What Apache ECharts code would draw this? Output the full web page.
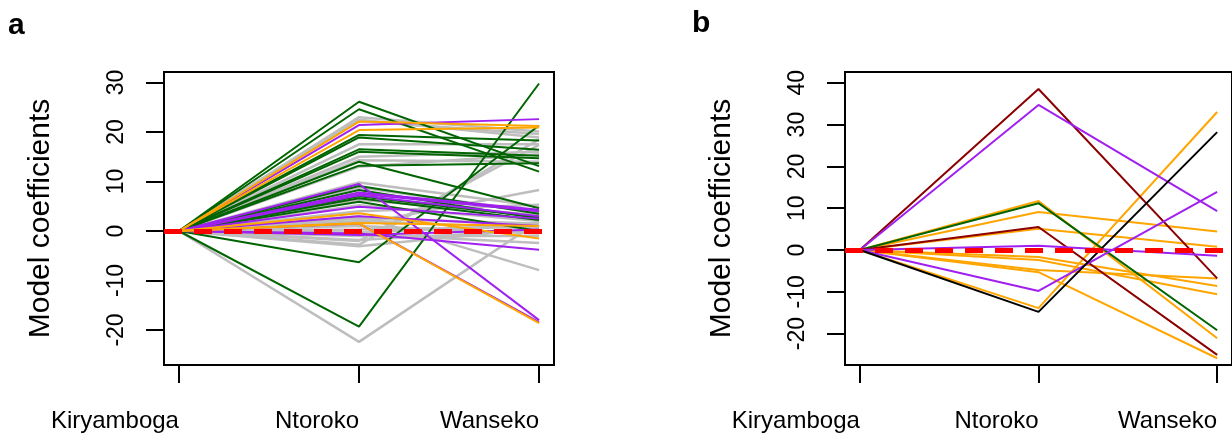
<!DOCTYPE html>
<html>
<head>
<meta charset="utf-8">
<title>Model coefficients</title>
<script src="https://cdn.jsdelivr.net/npm/echarts@6.0.0/dist/echarts.min.js"></script>
<style>
  html, body { margin: 0; padding: 0; background: #fff; }
  #container { width: 1232px; height: 437px; }
</style>
</head>
<body>
<div id="container"></div>
<script>
// sites on the x axis, Kiryamboga is the reference level (0)
var sites = ['Kiryamboga', 'Ntoroko', 'Wanseko'];
var kiryambogaRef = 0;
var yTicksA = [-20, -10, 0, 10, 20, 30];
var yTicksB = [-20, -10, 0, 10, 20, 30, 40];

// panel a: [Ntoroko, Wanseko] per line
var aGrey = [
    [23.0, 20.1], [22.5, 18.9], [22.2, 19.6], [17.5, 17.5], [15.0, 16.0], [14.3, 14.0],
    [13.0, 15.5], [9.8, 5.0], [8.8, 3.8], [6.3, 3.2], [5.2, 2.0], [4.0, 5.3], [2.5, 1.5],
    [2.0, 0.5], [1.0, -0.5], [0.3, 0.8], [-0.3, 1.2], [-1.0, -1.0], [-1.8, 0.2],
    [-2.8, 18.5], [-2.0, 17.4], [-3.1, 0.5], [3.0, -7.9], [-0.6, -2.4], [1.4, 8.3],
    [-22.4, 2.0]
];
var aGreen = [
    [26.1, 13.1], [24.6, 12.0], [19.4, 18.3], [18.9, 16.4], [16.5, 15.2], [16.0, 14.7],
    [13.2, 13.7], [14.0, 4.6], [9.1, 3.5], [8.3, 2.5], [7.0, 2.8], [6.6, 2.2], [5.9, 0.0],
    [-6.3, 21.3], [-19.3, 29.8]
];
var aPurple = [
    [21.4, 22.6], [9.5, -18.0], [7.8, 4.3], [7.5, 4.0], [7.2, 3.0], [4.9, 2.5],
    [3.0, 1.0], [1.5, -18.4], [-0.5, -3.8], [-0.8, 0.3]
];
var aOrange = [
    [22.1, 21.2], [20.4, 20.9], [3.6, -1.5], [1.5, -18.6], [1.6, 1.0]
];

// panel b
var bOrange = [
    [11.7, -21.1], [9.1, 4.4], [5.1, 0.8], [-1.7, -8.6], [-2.4, -10.6],
    [-4.8, -6.8], [-5.3, -25.9], [-13.9, 33.0]
];
var bGreen = [[11.2, -19.2]];
var bDarkred = [[38.5, -6.8], [5.5, -25.1]];
var bPurple = [[34.7, 9.3], [1.0, -1.4], [-9.8, 13.9]];
var bBlack = [[-14.8, 28.2]];

var FONT = 'Liberation Sans, Arial, Helvetica, sans-serif';
var X_MIN = 0.917, X_MAX = 3.083;

var dom = document.getElementById('container');
var myChart = echarts.init(dom, null, { renderer: 'canvas' });

// one line series per model
var makeLines = function (rows, color, width, idx) {
    return rows.map(function (r) {
        return {
            type: 'line',
            xAxisIndex: idx,
            yAxisIndex: idx,
            symbol: 'none',
            silent: true,
            animation: false,
            lineStyle: { color: color, width: width },
            data: [[1, kiryambogaRef], [2, r[0]], [3, r[1]]]
        };
    });
};

// red dashed zero line
var zeroLine = function (idx) {
    return {
        type: 'line',
        xAxisIndex: idx,
        yAxisIndex: idx,
        data: [],
        z: 5,
        silent: true,
        animation: false,
        markLine: {
            silent: true,
            symbol: 'none',
            label: { show: false },
            animation: false,
            lineStyle: { color: '#FF0000', width: 5, type: [18, 12], cap: 'butt' },
            data: [{ yAxis: 0 }]
        }
    };
};

var xAxisFor = function (idx) {
    return {
        type: 'value',
        gridIndex: idx,
        min: X_MIN,
        max: X_MAX,
        axisLine: { show: false, onZero: false },
        splitLine: { show: false },
        axisTick: {
            show: true, length: 18, customValues: [1, 2, 3],
            lineStyle: { color: '#000', width: 2 }
        },
        axisLabel: {
            customValues: [1, 2, 3],
            align: 'right',
            margin: 44,
            fontSize: 24,
            fontFamily: FONT,
            color: '#000',
            formatter: function (v) { return sites[Math.round(v) - 1]; }
        }
    };
};

var yAxisFor = function (idx, min, max, ticks) {
    return {
        type: 'value',
        gridIndex: idx,
        min: min,
        max: max,
        name: 'Model coefficients',
        nameLocation: 'middle',
        nameRotate: 90,
        nameGap: 108,
        nameTextStyle: { fontSize: 30, fontFamily: FONT, color: '#000' },
        axisLine: { show: false, onZero: false },
        splitLine: { show: false },
        axisTick: {
            show: true, length: 18, customValues: ticks,
            lineStyle: { color: '#000', width: 2 }
        },
        axisLabel: {
            customValues: ticks,
            rotate: 90,
            margin: 36,
            fontSize: 23,
            fontFamily: FONT,
            color: '#000'
        }
    };
};

var series = [].concat(
    makeLines(aGrey, '#BEBEBE', 2.5, 0),
    makeLines(aGreen, '#006400', 2, 0),
    makeLines(aPurple, '#A020F0', 2, 0),
    makeLines(aOrange, '#FFA500', 2, 0),
    [zeroLine(0)],
    makeLines(bOrange, '#FFA500', 2, 1),
    makeLines(bGreen, '#006400', 2, 1),
    makeLines(bDarkred, '#8B0000', 2, 1),
    makeLines(bPurple, '#A020F0', 2, 1),
    makeLines(bBlack, '#000000', 2, 1),
    [zeroLine(1)]
);

var option = {
    animation: false,
    backgroundColor: '#fff',
    textStyle: { fontFamily: FONT },
    grid: [
        { left: 164, top: 72, width: 390, height: 293, show: true, borderColor: '#000', borderWidth: 2, backgroundColor: 'transparent' },
        { left: 845, top: 72, width: 390, height: 293, show: true, borderColor: '#000', borderWidth: 2, backgroundColor: 'transparent' }
    ],
    xAxis: [xAxisFor(0), xAxisFor(1)],
    yAxis: [
        yAxisFor(0, -27.07, 32.12, yTicksA),
        yAxisFor(1, -27.51, 42.58, yTicksB)
    ],
    graphic: [
        { type: 'text', left: 8, top: 11, style: { text: 'a', font: 'bold 30px ' + FONT, fill: '#000' } },
        { type: 'text', left: 692, top: 9, style: { text: 'b', font: 'bold 30px ' + FONT, fill: '#000' } }
    ],
    series: series
};

myChart.setOption(option, true);
</script>
</body>
</html>
